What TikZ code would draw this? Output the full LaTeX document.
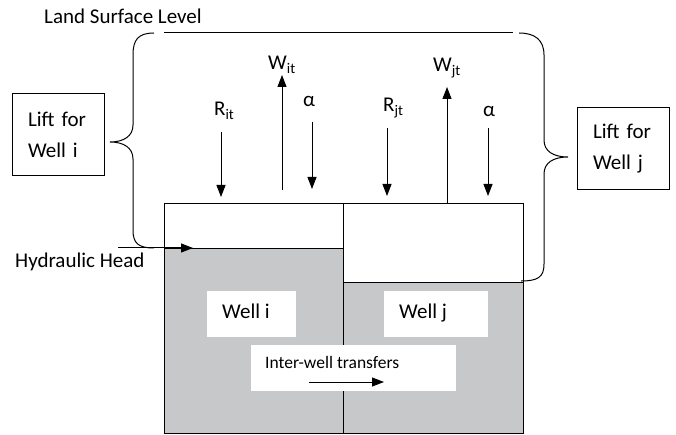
\documentclass[tikz,border=0pt]{standalone}
\usepackage{fontspec}
\setmainfont{Carlito}
\usepackage{xcolor}
\usetikzlibrary{arrows.meta,positioning,calc}
\definecolor{watergray}{RGB}{199, 200, 202}

\tikzset{
    txt/.style={inner sep=0pt, font=\fontsize{21}{31}\selectfont},
    smalltxt/.style={inner sep=0pt, font=\fontsize{17.5}{21}\selectfont},
    liftbox/.style={draw, line width=1pt, inner xsep=16pt, text width=60pt, minimum height=82pt, align=left, font=\fontsize{21}{31}\selectfont},
    wellbox/.style={fill=white, inner sep=0pt, minimum height=46pt},
    flow/.style={line width=1pt, -{Triangle[length=12pt, width=9pt]}},
    edge/.style={line width=1pt}
}

\begin{document}
\begin{tikzpicture}[x=1pt, y=-1pt]
    \useasboundingbox (0,0) rectangle (676,435);

    % Water in both wells
    \fill[watergray] (164,249) rectangle (343,433);
    \fill[watergray] (343,282) rectangle (523,433);

    % Well outlines and water levels
    \draw[edge] (164,204) rectangle (523,433);
    \draw[edge] (343,204) -- (343,433);
    \draw[edge] (164,249) -- (343,249);
    \draw[edge] (343,282) -- (523,282);

    % Land surface
    \node[txt, anchor=base west] (land) at (44,24) {Land Surface Level};
    \draw[edge] (164,33) -- (513,33);

    % Braces for the lift
    \draw[edge] (154,33) .. controls (138,33) and (133,40) .. (133,55) -- (133,125)
        .. controls (133,136) and (124,142) .. (110,142)
        .. controls (124,142) and (133,148) .. (133,159) -- (133,230)
        .. controls (133,243) and (138,248) .. (154,248);
    \draw[edge] (519,33) .. controls (535,33) and (544,40) .. (544,55) -- (544,140)
        .. controls (544,151) and (553,157) .. (568,157)
        .. controls (553,157) and (544,163) .. (544,174) -- (544,264)
        .. controls (544,277) and (538,281) .. (521,281);

    % Lift boxes
    \node[liftbox] (liftI) at (58,135) {Lift for\\Well i};
    \node[liftbox] (liftJ) at (623,148.5) {Lift for\\Well j};

    % Hydraulic head
    \node[txt, anchor=base west] (hydr) at (15,267) {Hydraulic Head};
    \coordinate (hydr0) at (118,248);
    \coordinate (hydr1) at (193,248);
    \draw[flow] (hydr0) -- (hydr1);

    % Flows of well i
    \node[txt, anchor=base west] (Rit) at (214,116) {R\textsubscript{it}};
    \node[txt, anchor=base west] (Wit) at (268,70) {W\textsubscript{it}};
    \node[txt, anchor=base west] (alphaI) at (303,107) {α};
    \coordinate (Rit0) at (221,132);   \coordinate (Rit1) at (221,197);
    \coordinate (Wit0) at (282,190);   \coordinate (Wit1) at (282,75);
    \coordinate (aI0) at (312,122);    \coordinate (aI1) at (312,189);
    \draw[flow] (Rit0) -- (Rit1);
    \draw[flow] (Wit0) -- (Wit1);
    \draw[flow] (aI0) -- (aI1);

    % Flows of well j
    \node[txt, anchor=base west] (Rjt) at (383,112) {R\textsubscript{jt}};
    \node[txt, anchor=base west] (Wjt) at (433,72) {W\textsubscript{jt}};
    \node[txt, anchor=base west] (alphaJ) at (483,117) {α};
    \coordinate (Rjt0) at (387,128);   \coordinate (Rjt1) at (387,196);
    \coordinate (Wjt0) at (447,204);   \coordinate (Wjt1) at (447,87);
    \coordinate (aJ0) at (488,128);    \coordinate (aJ1) at (488,196);
    \draw[flow] (Rjt0) -- (Rjt1);
    \draw[flow] (Wjt0) -- (Wjt1);
    \draw[flow] (aJ0) -- (aJ1);

    % Well labels
    \node[wellbox, minimum width=89pt] (wellIbox) at (251.5,314) {};
    \node[wellbox, minimum width=104pt] (wellJbox) at (436,314) {};
    \node[txt, anchor=base west] (wellI) at (222,318) {Well i};
    \node[txt, anchor=base west] (wellJ) at (399,318) {Well j};

    % Transfers between wells
    \node[wellbox, minimum width=205pt] (transferbox) at (353.5,368) {};
    \node[smalltxt, anchor=base west] (transfer) at (265,368) {Inter-well transfers};
    \coordinate (tr0) at (309,382);
    \coordinate (tr1) at (384,382);
    \draw[flow] (tr0) -- (tr1);
\end{tikzpicture}
\end{document}
